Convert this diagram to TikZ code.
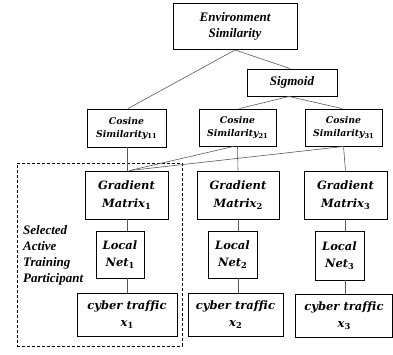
\documentclass[tikz,border=0pt]{standalone}
\usepackage{fontspec}
\usepackage{graphicx}
\setmainfont{Liberation Serif}
\newfontfamily\mathlike[Ligatures={NoCommon}]{DejaVu Serif}
\begin{document}
\begin{tikzpicture}[x=1pt,y=-1pt]
\tikzset{
  box/.style={draw, line width=0.9pt, align=center, inner sep=0pt},
  tfont/.style={font=\fontsize{13}{16}\selectfont\bfseries\itshape},
  mfont/.style={font=\mathlike\fontsize{11.5}{17.5}\selectfont\bfseries\itshape},
  cfont/.style={font=\mathlike\fontsize{9.3}{13}\selectfont\bfseries\itshape},
  conn/.style={draw=black!65, line width=0.6pt},
  grpbox/.style={draw, line width=0.9pt, dash pattern=on 3pt off 2pt, inner sep=0pt}
}
\newcommand{\sbs}[1]{\raisebox{-0.35ex}{\scalebox{0.72}{\upshape #1}}}
\useasboundingbox (0,0) rectangle (393,354);
% dashed group
\node[grpbox, minimum width=165, minimum height=183] (grp) at (99.5,254.5) {};
% top
\node[box, tfont, minimum width=124, minimum height=46] (env) at (235,26.5) {Environment\\Similarity};
\node[box, tfont, minimum width=90, minimum height=27] (sig) at (292,82.5) {Sigmoid};
% cosine
\node[box, cfont, minimum width=79, minimum height=38] (cs11) at (126.5,128) {Cosine\\Similarity\sbs{11}};
\node[box, cfont, minimum width=77, minimum height=37] (cs21) at (237.5,127.5) {Cosine\\Similarity\sbs{21}};
\node[box, cfont, minimum width=77, minimum height=37] (cs31) at (343.5,127.5) {Cosine\\Similarity\sbs{31}};
% gradient
\node[box, mfont, minimum width=83, minimum height=48] (g1) at (126.5,195) {Gradient\\Matrix\sbs{1}};
\node[box, mfont, minimum width=82, minimum height=48] (g2) at (238,195) {Gradient\\Matrix\sbs{2}};
\node[box, mfont, minimum width=83, minimum height=48] (g3) at (345.5,195) {Gradient\\Matrix\sbs{3}};
% local nets
\node[box, mfont, minimum width=48, minimum height=47] (l1) at (120,254.5) {Local\\Net\sbs{1}};
\node[box, mfont, minimum width=49, minimum height=47] (l2) at (232.5,254.5) {Local\\Net\sbs{2}};
\node[box, mfont, minimum width=49, minimum height=49] (l3) at (339.5,255.5) {Local\\Net\sbs{3}};
% cyber traffic
\node[box, mfont, minimum width=100, minimum height=43] (c1) at (127,314.5) {cyber traffic\\x\sbs{1}};
\node[box, mfont, minimum width=95, minimum height=43] (c2) at (235.5,314.5) {cyber traffic\\x\sbs{2}};
\node[box, mfont, minimum width=97, minimum height=43] (c3) at (344,315.5) {cyber traffic\\x\sbs{3}};
% label
\node[tfont, align=left, anchor=west, inner sep=0pt] (sel) at (23,255) {Selected\\Active\\Training\\Participant};
% connectors
\draw[conn] (env.south) -- ([xshift=1.5pt]cs11.north);
\draw[conn] (env.south) -- ([xshift=-2pt]sig.north);
\draw[conn] ([xshift=-3pt]sig.south) -- ([xshift=2pt]cs21.north);
\draw[conn] ([xshift=-3pt]sig.south) -- ([xshift=-1.5pt]cs31.north);
\draw[conn] ([xshift=0.5pt]cs11.south) -- ([xshift=0.5pt]g1.north);
\draw[conn] (cs21.south) -- (g2.north);
\draw[conn] ([xshift=-4pt]cs21.south) -- ([xshift=3pt]g1.north);
\draw[conn] (cs31.south) -- (g3.north);
\draw[conn] (cs31.south) -- ([xshift=3pt]g1.north);
\draw[conn] ([xshift=0.5pt]g1.south) -- ([xshift=0.5pt]g1.south |- l1.north);
\draw[conn] ([xshift=0.5pt]g1.south |- l1.south) -- ([xshift=0.5pt]g1.south |- c1.north);
\draw[conn] (g2.south) -- (g2.south |- l2.north);
\draw[conn] (g2.south |- l2.south) -- (g2.south |- c2.north);
\draw[conn] (g3.south) -- (g3.south |- l3.north);
\draw[conn] (g3.south |- l3.south) -- (g3.south |- c3.north);
\end{tikzpicture}
\end{document}
